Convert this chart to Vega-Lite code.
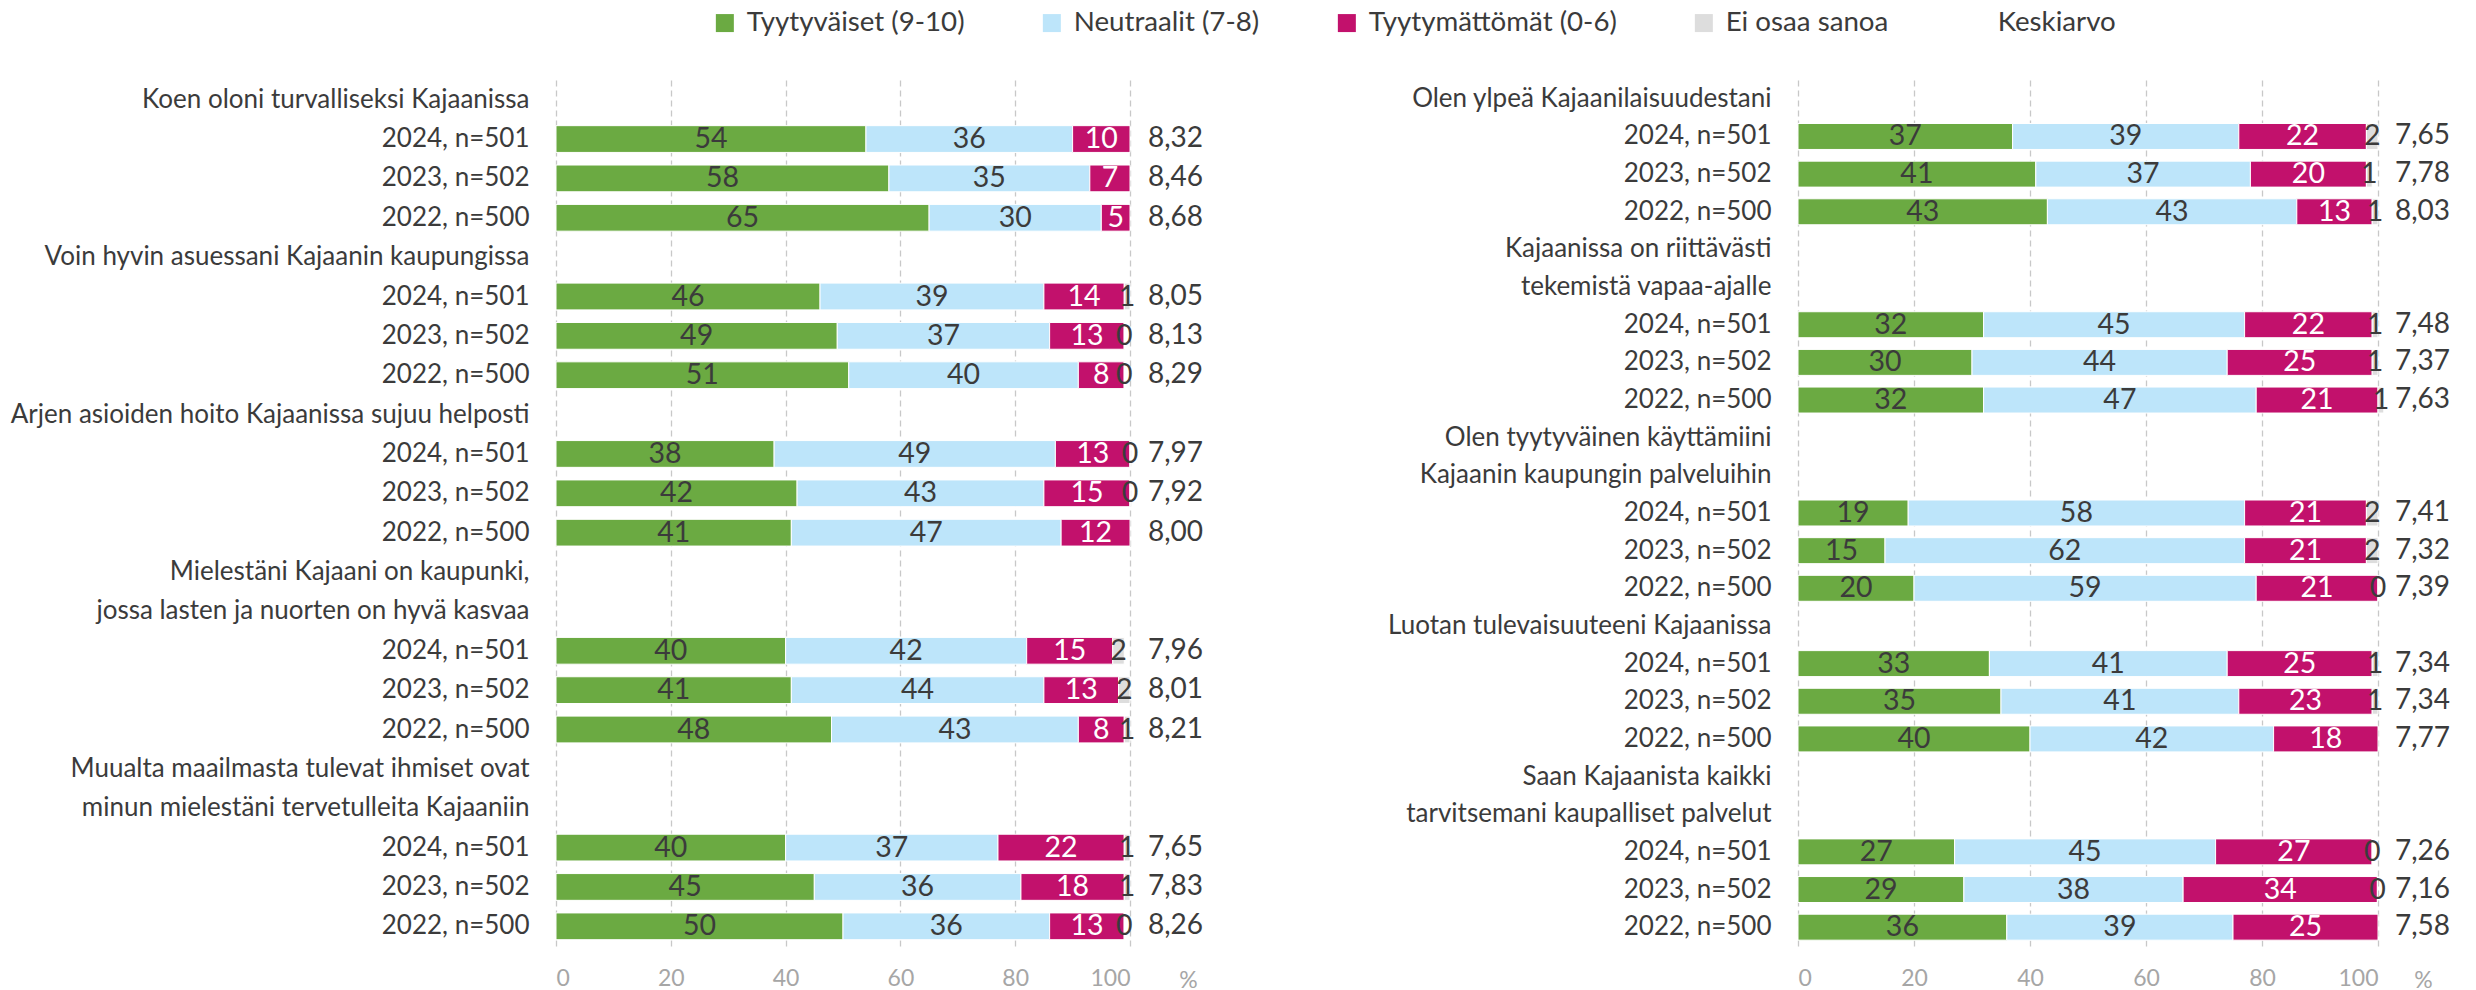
{
  "$schema": "https://vega.github.io/schema/vega-lite/v6.json",
  "autosize": {"type": "none"},
  "padding": {"left": 556, "top": 80, "right": 1920, "bottom": 910},
  "background": "white",
  "datasets": {
    "cats": [
      {"cat": "Tyytyväiset (9-10)", "k": 1},
      {"cat": "Neutraalit (7-8)", "k": 2},
      {"cat": "Tyytymättömät (0-6)", "k": 3},
      {"cat": "Ei osaa sanoa", "k": 4}
    ],
    "left": [
      {"id": "1|2024, n=501", "Tyytyväiset (9-10)": 54, "Neutraalit (7-8)": 36, "Tyytymättömät (0-6)": 10, "Keskiarvo": 8.32},
      {"id": "1|2023, n=502", "Tyytyväiset (9-10)": 58, "Neutraalit (7-8)": 35, "Tyytymättömät (0-6)": 7, "Keskiarvo": 8.46},
      {"id": "1|2022, n=500", "Tyytyväiset (9-10)": 65, "Neutraalit (7-8)": 30, "Tyytymättömät (0-6)": 5, "Keskiarvo": 8.68},
      {"id": "2|2024, n=501", "Tyytyväiset (9-10)": 46, "Neutraalit (7-8)": 39, "Tyytymättömät (0-6)": 14, "Ei osaa sanoa": 1, "Keskiarvo": 8.05},
      {"id": "2|2023, n=502", "Tyytyväiset (9-10)": 49, "Neutraalit (7-8)": 37, "Tyytymättömät (0-6)": 13, "Ei osaa sanoa": 0, "Keskiarvo": 8.13},
      {"id": "2|2022, n=500", "Tyytyväiset (9-10)": 51, "Neutraalit (7-8)": 40, "Tyytymättömät (0-6)": 8, "Ei osaa sanoa": 0, "Keskiarvo": 8.29},
      {"id": "3|2024, n=501", "Tyytyväiset (9-10)": 38, "Neutraalit (7-8)": 49, "Tyytymättömät (0-6)": 13, "Ei osaa sanoa": 0, "Keskiarvo": 7.97},
      {"id": "3|2023, n=502", "Tyytyväiset (9-10)": 42, "Neutraalit (7-8)": 43, "Tyytymättömät (0-6)": 15, "Ei osaa sanoa": 0, "Keskiarvo": 7.92},
      {"id": "3|2022, n=500", "Tyytyväiset (9-10)": 41, "Neutraalit (7-8)": 47, "Tyytymättömät (0-6)": 12, "Keskiarvo": 8.00},
      {"id": "4|2024, n=501", "Tyytyväiset (9-10)": 40, "Neutraalit (7-8)": 42, "Tyytymättömät (0-6)": 15, "Ei osaa sanoa": 2, "Keskiarvo": 7.96},
      {"id": "4|2023, n=502", "Tyytyväiset (9-10)": 41, "Neutraalit (7-8)": 44, "Tyytymättömät (0-6)": 13, "Ei osaa sanoa": 2, "Keskiarvo": 8.01},
      {"id": "4|2022, n=500", "Tyytyväiset (9-10)": 48, "Neutraalit (7-8)": 43, "Tyytymättömät (0-6)": 8, "Ei osaa sanoa": 1, "Keskiarvo": 8.21},
      {"id": "5|2024, n=501", "Tyytyväiset (9-10)": 40, "Neutraalit (7-8)": 37, "Tyytymättömät (0-6)": 22, "Ei osaa sanoa": 1, "Keskiarvo": 7.65},
      {"id": "5|2023, n=502", "Tyytyväiset (9-10)": 45, "Neutraalit (7-8)": 36, "Tyytymättömät (0-6)": 18, "Ei osaa sanoa": 1, "Keskiarvo": 7.83},
      {"id": "5|2022, n=500", "Tyytyväiset (9-10)": 50, "Neutraalit (7-8)": 36, "Tyytymättömät (0-6)": 13, "Ei osaa sanoa": 0, "Keskiarvo": 8.26}
    ],
    "right": [
      {"id": "6|2024, n=501", "Tyytyväiset (9-10)": 37, "Neutraalit (7-8)": 39, "Tyytymättömät (0-6)": 22, "Ei osaa sanoa": 2, "Keskiarvo": 7.65},
      {"id": "6|2023, n=502", "Tyytyväiset (9-10)": 41, "Neutraalit (7-8)": 37, "Tyytymättömät (0-6)": 20, "Ei osaa sanoa": 1, "Keskiarvo": 7.78},
      {"id": "6|2022, n=500", "Tyytyväiset (9-10)": 43, "Neutraalit (7-8)": 43, "Tyytymättömät (0-6)": 13, "Ei osaa sanoa": 1, "Keskiarvo": 8.03},
      {"id": "7|2024, n=501", "Tyytyväiset (9-10)": 32, "Neutraalit (7-8)": 45, "Tyytymättömät (0-6)": 22, "Ei osaa sanoa": 1, "Keskiarvo": 7.48},
      {"id": "7|2023, n=502", "Tyytyväiset (9-10)": 30, "Neutraalit (7-8)": 44, "Tyytymättömät (0-6)": 25, "Ei osaa sanoa": 1, "Keskiarvo": 7.37},
      {"id": "7|2022, n=500", "Tyytyväiset (9-10)": 32, "Neutraalit (7-8)": 47, "Tyytymättömät (0-6)": 21, "Ei osaa sanoa": 1, "Keskiarvo": 7.63},
      {"id": "8|2024, n=501", "Tyytyväiset (9-10)": 19, "Neutraalit (7-8)": 58, "Tyytymättömät (0-6)": 21, "Ei osaa sanoa": 2, "Keskiarvo": 7.41},
      {"id": "8|2023, n=502", "Tyytyväiset (9-10)": 15, "Neutraalit (7-8)": 62, "Tyytymättömät (0-6)": 21, "Ei osaa sanoa": 2, "Keskiarvo": 7.32},
      {"id": "8|2022, n=500", "Tyytyväiset (9-10)": 20, "Neutraalit (7-8)": 59, "Tyytymättömät (0-6)": 21, "Ei osaa sanoa": 0, "Keskiarvo": 7.39},
      {"id": "9|2024, n=501", "Tyytyväiset (9-10)": 33, "Neutraalit (7-8)": 41, "Tyytymättömät (0-6)": 25, "Ei osaa sanoa": 1, "Keskiarvo": 7.34},
      {"id": "9|2023, n=502", "Tyytyväiset (9-10)": 35, "Neutraalit (7-8)": 41, "Tyytymättömät (0-6)": 23, "Ei osaa sanoa": 1, "Keskiarvo": 7.34},
      {"id": "9|2022, n=500", "Tyytyväiset (9-10)": 40, "Neutraalit (7-8)": 42, "Tyytymättömät (0-6)": 18, "Keskiarvo": 7.77},
      {"id": "10|2024, n=501", "Tyytyväiset (9-10)": 27, "Neutraalit (7-8)": 45, "Tyytymättömät (0-6)": 27, "Ei osaa sanoa": 0, "Keskiarvo": 7.26},
      {"id": "10|2023, n=502", "Tyytyväiset (9-10)": 28.6, "Neutraalit (7-8)": 37.8, "Tyytymättömät (0-6)": 33.5, "Ei osaa sanoa": 0, "Keskiarvo": 7.16},
      {"id": "10|2022, n=500", "Tyytyväiset (9-10)": 36, "Neutraalit (7-8)": 39, "Tyytymättömät (0-6)": 25, "Keskiarvo": 7.58}
    ]
  },
  "hconcat": [
    {
      "width": 574,
      "height": 866,
      "data": {"name": "left"},
      "encoding": {
        "y": {
          "field": "id", "type": "nominal", "title": null,
          "scale": {
            "domain": ["Koen oloni turvalliseksi Kajaanissa", "1|2024, n=501", "1|2023, n=502", "1|2022, n=500",
                       "Voin hyvin asuessani Kajaanin kaupungissa", "2|2024, n=501", "2|2023, n=502", "2|2022, n=500",
                       "Arjen asioiden hoito Kajaanissa sujuu helposti", "3|2024, n=501", "3|2023, n=502", "3|2022, n=500",
                       "Mielestäni Kajaani on kaupunki,", "jossa lasten ja nuorten on hyvä kasvaa", "4|2024, n=501", "4|2023, n=502", "4|2022, n=500",
                       "Muualta maailmasta tulevat ihmiset ovat", "minun mielestäni tervetulleita Kajaaniin", "5|2024, n=501", "5|2023, n=502", "5|2022, n=500"],
            "paddingInner": 0.32, "paddingOuter": 0.16
          },
          "axis": {"labelExpr": "replace(datum.value, /^[0-9]+[|]/, '')", "domain": false, "ticks": false, "labelPadding": 27, "labelFontSize": 26, "labelColor": "#3b3b3b", "labelLimit": 800}
        }
      },
      "layer": [
        {
          "transform": [
            {"fold": ["Tyytyväiset (9-10)", "Neutraalit (7-8)", "Tyytymättömät (0-6)", "Ei osaa sanoa"], "as": ["cat", "val"]},
            {"filter": "isValid(datum.val)"},
            {"lookup": "cat", "from": {"data": {"name": "cats"}, "key": "cat", "fields": ["k"]}},
            {"stack": "val", "groupby": ["id"], "sort": [{"field": "k", "order": "ascending"}], "as": ["v0", "v1"]}
          ],
          "mark": {"type": "bar", "stroke": "white", "strokeWidth": 1},
          "encoding": {
            "x": {"field": "v0", "type": "quantitative", "title": "%", "scale": {"domain": [0, 100], "nice": false},
                  "axis": {"values": [0, 20, 40, 60, 80, 100], "grid": true, "gridDash": [6, 4], "gridColor": "#c8c8c8", "gridWidth": 1.3, "domain": false, "ticks": false, "labelColor": "#a6a6a6", "labelFontSize": 23, "labelPadding": 21, "title": "%", "titleX": 632, "titleY": 34, "titleColor": "#a6a6a6", "titleFontSize": 23, "titleFontWeight": "normal", "titleBaseline": "middle", "titleAlign": "center"}},
            "x2": {"field": "v1"},
            "color": {"field": "cat", "type": "nominal",
                      "scale": {"domain": ["Tyytyväiset (9-10)", "Neutraalit (7-8)", "Tyytymättömät (0-6)", "Ei osaa sanoa", "Keskiarvo"],
                                "range": ["#6BAA42", "#BDE5FA", "#C2116C", "#DDDDDD", "#FFFFFF"]},
                      "legend": {"title": null}}
          }
        },
        {
          "transform": [
            {"fold": ["Tyytyväiset (9-10)", "Neutraalit (7-8)", "Tyytymättömät (0-6)", "Ei osaa sanoa"], "as": ["cat", "val"]},
            {"filter": "isValid(datum.val)"},
            {"lookup": "cat", "from": {"data": {"name": "cats"}, "key": "cat", "fields": ["k"]}},
            {"stack": "val", "groupby": ["id"], "sort": [{"field": "k", "order": "ascending"}], "as": ["v0", "v1"]},
            {"fold": ["v0", "v1"], "as": ["edge", "pos"]},
            {"aggregate": [{"op": "mean", "field": "pos", "as": "mid"}], "groupby": ["id", "cat", "val"]}
          ],
          "mark": {"type": "text", "fontSize": 28.5, "baseline": "middle", "align": "center"},
          "encoding": {
            "x": {"field": "mid", "type": "quantitative", "title": "%"},
            "text": {"field": "val", "type": "quantitative", "format": "d"},
            "color": {"condition": {"test": "datum.cat === 'Tyytymättömät (0-6)'", "value": "#ffffff"}, "value": "#3b3b3b"}
          }
        },
        {
          "mark": {"type": "text", "fontSize": 28, "baseline": "middle", "align": "left", "dx": 18, "color": "#3b3b3b"},
          "encoding": {
            "x": {"datum": 100, "type": "quantitative", "title": "%"},
            "text": {"field": "Keskiarvo", "type": "quantitative", "format": ".2f"}
          }
        }
      ]
    },
    {
      "width": 580,
      "height": 866,
      "data": {"name": "right"},
      "encoding": {
        "y": {
          "field": "id", "type": "nominal", "title": null,
          "scale": {
            "domain": ["Olen ylpeä Kajaanilaisuudestani", "6|2024, n=501", "6|2023, n=502", "6|2022, n=500",
                       "Kajaanissa on riittävästi", "tekemistä vapaa-ajalle", "7|2024, n=501", "7|2023, n=502", "7|2022, n=500",
                       "Olen tyytyväinen käyttämiini", "Kajaanin kaupungin palveluihin", "8|2024, n=501", "8|2023, n=502", "8|2022, n=500",
                       "Luotan tulevaisuuteeni Kajaanissa", "9|2024, n=501", "9|2023, n=502", "9|2022, n=500",
                       "Saan Kajaanista kaikki", "tarvitsemani kaupalliset palvelut", "10|2024, n=501", "10|2023, n=502", "10|2022, n=500"],
            "paddingInner": 0.31, "paddingOuter": 0.155
          },
          "axis": {"labelExpr": "replace(datum.value, /^[0-9]+[|]/, '')", "domain": false, "ticks": false, "labelPadding": 27, "labelFontSize": 26, "labelColor": "#3b3b3b", "labelLimit": 800}
        }
      },
      "layer": [
        {
          "transform": [
            {"fold": ["Tyytyväiset (9-10)", "Neutraalit (7-8)", "Tyytymättömät (0-6)", "Ei osaa sanoa"], "as": ["cat", "val"]},
            {"filter": "isValid(datum.val)"},
            {"lookup": "cat", "from": {"data": {"name": "cats"}, "key": "cat", "fields": ["k"]}},
            {"stack": "val", "groupby": ["id"], "sort": [{"field": "k", "order": "ascending"}], "as": ["v0", "v1"]}
          ],
          "mark": {"type": "bar", "stroke": "white", "strokeWidth": 1},
          "encoding": {
            "x": {"field": "v0", "type": "quantitative", "title": "%", "scale": {"domain": [0, 100], "nice": false},
                  "axis": {"values": [0, 20, 40, 60, 80, 100], "grid": true, "gridDash": [6, 4], "gridColor": "#c8c8c8", "gridWidth": 1.3, "domain": false, "ticks": false, "labelColor": "#a6a6a6", "labelFontSize": 23, "labelPadding": 21, "title": "%", "titleX": 625, "titleY": 34, "titleColor": "#a6a6a6", "titleFontSize": 23, "titleFontWeight": "normal", "titleBaseline": "middle", "titleAlign": "center"}},
            "x2": {"field": "v1"},
            "color": {"field": "cat", "type": "nominal",
                      "scale": {"domain": ["Tyytyväiset (9-10)", "Neutraalit (7-8)", "Tyytymättömät (0-6)", "Ei osaa sanoa", "Keskiarvo"],
                                "range": ["#6BAA42", "#BDE5FA", "#C2116C", "#DDDDDD", "#FFFFFF"]},
                      "legend": {"title": null}}
          }
        },
        {
          "transform": [
            {"fold": ["Tyytyväiset (9-10)", "Neutraalit (7-8)", "Tyytymättömät (0-6)", "Ei osaa sanoa"], "as": ["cat", "val"]},
            {"filter": "isValid(datum.val)"},
            {"lookup": "cat", "from": {"data": {"name": "cats"}, "key": "cat", "fields": ["k"]}},
            {"stack": "val", "groupby": ["id"], "sort": [{"field": "k", "order": "ascending"}], "as": ["v0", "v1"]},
            {"fold": ["v0", "v1"], "as": ["edge", "pos"]},
            {"aggregate": [{"op": "mean", "field": "pos", "as": "mid"}], "groupby": ["id", "cat", "val"]}
          ],
          "mark": {"type": "text", "fontSize": 28.5, "baseline": "middle", "align": "center"},
          "encoding": {
            "x": {"field": "mid", "type": "quantitative", "title": "%"},
            "text": {"field": "val", "type": "quantitative", "format": "d"},
            "color": {"condition": {"test": "datum.cat === 'Tyytymättömät (0-6)'", "value": "#ffffff"}, "value": "#3b3b3b"}
          }
        },
        {
          "mark": {"type": "text", "fontSize": 28, "baseline": "middle", "align": "left", "dx": 17, "color": "#3b3b3b"},
          "encoding": {
            "x": {"datum": 100, "type": "quantitative", "title": "%"},
            "text": {"field": "Keskiarvo", "type": "quantitative", "format": ".2f"}
          }
        }
      ]
    }
  ],
  "spacing": 668,
  "bounds": "flush",
  "config": {
    "font": "Lato",
    "locale": {"number": {"decimal": ",", "thousands": " ", "grouping": [3], "currency": ["", " €"]}},
    "view": {"stroke": null},
    "legend": {
      "orient": "none", "legendX": 155, "legendY": -71, "direction": "horizontal",
      "symbolType": "square", "symbolSize": 324, "symbolStrokeWidth": 0, "symbolOpacity": 1,
      "labelFontSize": 27.7, "labelColor": "#3b3b3b", "labelOffset": 8, "columnPadding": 73, "labelLimit": 0, "padding": 0
    }
  }
}
